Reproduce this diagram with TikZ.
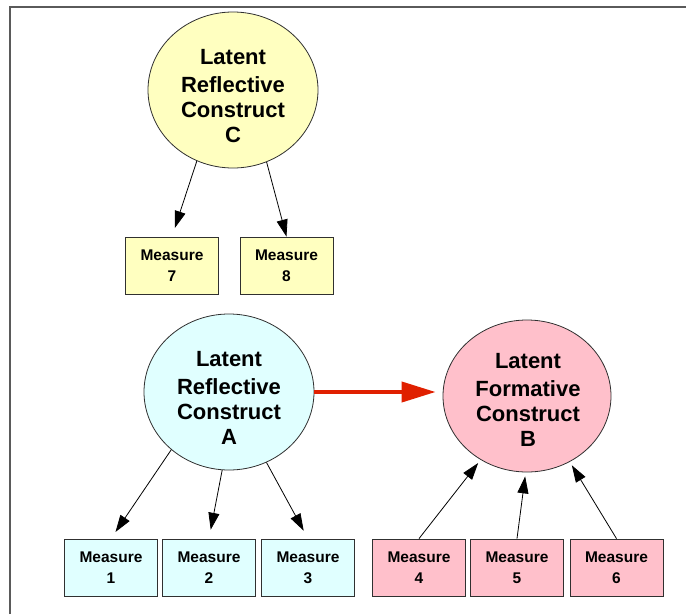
\documentclass[tikz,border=0pt]{standalone}
\usepackage{fontspec}
\setmainfont{Liberation Sans}
\usetikzlibrary{shapes.geometric,arrows.meta}
\definecolor{yel}{HTML}{FFFFC0}
\definecolor{cya}{HTML}{E0FFFF}
\definecolor{pnk}{HTML}{FFC0CB}
\definecolor{redar}{HTML}{E02000}
\definecolor{edge}{HTML}{303030}
\tikzset{
  lat/.style={ellipse, draw=edge, line width=0.8pt, minimum width=170pt, minimum height=156pt, inner sep=0pt},
  lattext/.style={align=center, inner sep=0pt, font=\fontsize{22}{25}\selectfont\bfseries},
  meas/.style={rectangle, draw=edge, line width=0.8pt, minimum width=93pt, minimum height=57pt, inner sep=0pt, align=center, font=\fontsize{15.5}{21}\selectfont\bfseries},
  arr/.style={line width=0.8pt, -{Triangle[length=17pt,width=11pt]}},
  redarr/.style={draw=redar, line width=4pt, -{Triangle[length=34pt,width=20pt]}}
}
\begin{document}
\begin{tikzpicture}[x=1pt,y=-1pt]
\useasboundingbox (0,0) rectangle (686,614);
\draw[edge!80, line width=1.2pt] (10,614) -- (10,7) -- (686,7);
% constructs
\node[lat, fill=yel] (C) at (233,90) {};
\node[lattext] (Ct) at (233,96) {Latent\\[3pt]Reflective\\Construct\\C};
\node[lat, fill=cya] (A) at (229,392) {};
\node[lattext] (At) at (229,398) {Latent\\[3pt]Reflective\\Construct\\A};
\node[lat, fill=pnk, minimum width=168pt, minimum height=152pt] (B) at (527,396) {};
\node[lattext] (Bt) at (528,400) {Latent\\[3pt]Formative\\Construct\\B};
% measures
\node[meas, fill=yel] (M7) at (172,265.5) {Measure\\7};
\node[meas, fill=yel] (M8) at (286.5,265.5) {Measure\\8};
\node[meas, fill=cya] (M1) at (111,567.5) {Measure\\1};
\node[meas, fill=cya] (M2) at (209,567.5) {Measure\\2};
\node[meas, fill=cya] (M3) at (308,567.5) {Measure\\3};
\node[meas, fill=pnk] (M4) at (419,567.5) {Measure\\4};
\node[meas, fill=pnk] (M5) at (517,567.5) {Measure\\5};
\node[meas, fill=pnk] (M6) at (616.5,567.5) {Measure\\6};
% reflective arrows
\draw[arr, shorten >=9pt] (C.243) -- (M7.north);
\draw[arr] (C.295) -- (M8.north);
\draw[arr, shorten >=8pt] (A.225) -- (M1.north);
\draw[arr, shorten >=9pt] (A.265) -- (M2.north);
\draw[arr, shorten >=9pt] (A.298) -- (M3.north);
% formative arrows
\draw[arr, shorten >=4pt] (M4.north) -- (B.234);
\draw[arr, shorten >=4pt] (M5.north) -- (B.269);
\draw[arr, shorten >=4pt] (M6.north) -- (B.303);
% structural path
\draw[redarr, shorten >=7pt] (A.east) -- (A.east -| B.west);
\end{tikzpicture}
\end{document}
